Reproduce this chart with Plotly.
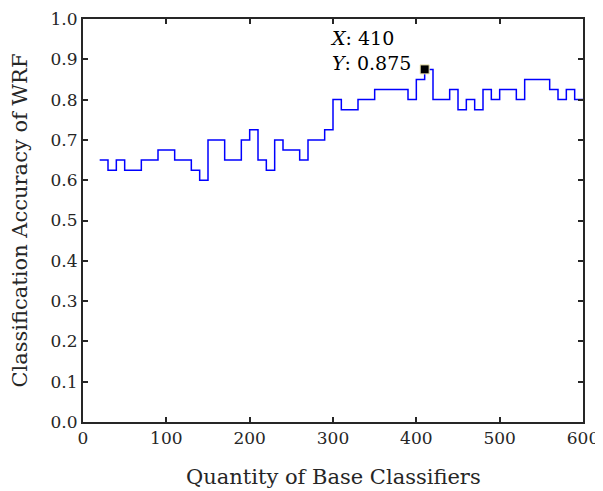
import plotly.graph_objects as go

x_vals = list(range(20, 601, 10))
accuracy = [0.65, 0.625, 0.65, 0.625, 0.625, 0.65, 0.65, 0.675, 0.675, 0.65,
            0.65, 0.625, 0.6, 0.7, 0.7, 0.65, 0.65, 0.7, 0.725, 0.65,
            0.625, 0.7, 0.675, 0.675, 0.65, 0.7, 0.7, 0.725, 0.8, 0.775,
            0.775, 0.8, 0.8, 0.825, 0.825, 0.825, 0.825, 0.8, 0.85, 0.875,
            0.8, 0.8, 0.825, 0.775, 0.8, 0.775, 0.825, 0.8, 0.825, 0.825,
            0.8, 0.85, 0.85, 0.85, 0.825, 0.8, 0.825, 0.8, 0.8]
tip_x = 410
tip_y = 0.875
x_title = "Quantity of Base Classifiers"
y_title = "Classification Accuracy of WRF"

FONT = "DejaVu Serif"
AX = "#262626"

fig = go.Figure()
fig.add_trace(go.Scatter(x=x_vals, y=accuracy, mode="lines",
                         line=dict(color="#0000ff", width=1.5, shape="hv"),
                         hoverinfo="skip", showlegend=False))
fig.add_trace(go.Scatter(x=[tip_x], y=[tip_y], mode="markers",
                         marker=dict(symbol="square", size=9, color="black",
                                     line=dict(color="#efe7b0", width=1)),
                         showlegend=False))
fig.add_annotation(x=396, y=0.923, xref="x", yref="y", xanchor="right", yanchor="middle",
                   align="left", showarrow=False,
                   text=f"<i>X</i>: {tip_x}<br><i>Y</i>: {tip_y}",
                   font=dict(family=FONT, size=19, color="black"))
fig.add_annotation(x=0.5, y=0, xref="paper", yref="paper", xanchor="center", yanchor="middle",
                   yshift=-55, showarrow=False, text=x_title,
                   font=dict(family=FONT, size=21, color="#262626"))
fig.add_annotation(x=0, y=0.5, xref="paper", yref="paper", xanchor="center", yanchor="middle",
                   xshift=-64, textangle=-90, showarrow=False, text=y_title,
                   font=dict(family=FONT, size=21, color="#262626"))

axis_common = dict(showline=True, linecolor=AX, linewidth=2, mirror="ticks",
                   ticks="inside", ticklen=5, tickwidth=1.5, tickcolor=AX,
                   showgrid=False, zeroline=False, automargin=False,
                   tickfont=dict(family=FONT, size=17, color="#262626"))

fig.update_xaxes(range=[0, 600], tickvals=[0, 100, 200, 300, 400, 500, 600], **axis_common)
fig.update_yaxes(range=[0, 1.0], dtick=0.1, tickformat=".1f", **axis_common)

fig.update_layout(width=595, height=483, plot_bgcolor="white", paper_bgcolor="white",
                  margin=dict(l=75, r=20, t=11, b=69))
fig.write_html("out.html")
